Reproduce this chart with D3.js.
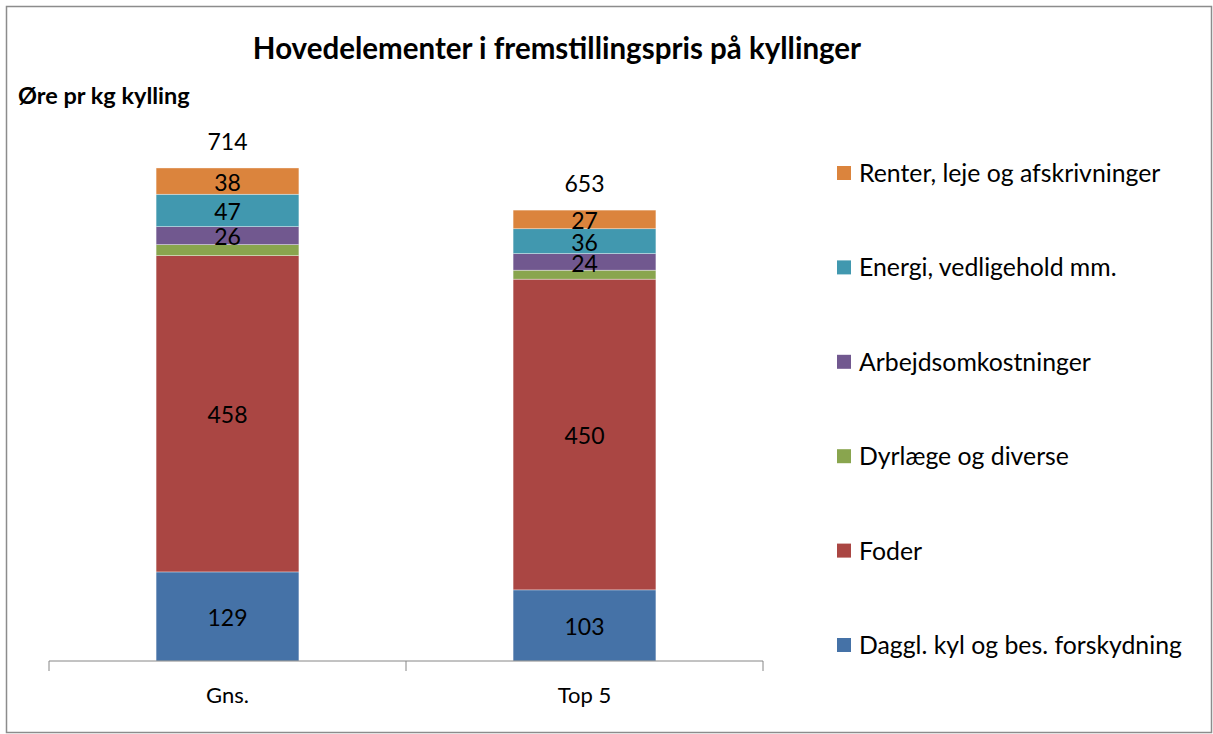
<!DOCTYPE html>
<html>
<head>
<meta charset="utf-8">
<script src="https://cdn.jsdelivr.net/npm/d3@7"></script>
<style>
  body { margin: 0; background: #fff; }
  text { font-family: Lato, "Open Sans", sans-serif; }
</style>
</head>
<body>
<div id="chart"></div>
<script>
// data
var categories = ['Gns.', 'Top 5'];
var series = ['Daggl. kyl og bes. forskydning', 'Foder', 'Dyrlæge og diverse',
              'Arbejdsomkostninger', 'Energi, vedligehold mm.', 'Renter, leje og afskrivninger'];
var daggl = [129, 103];
var foder = [458, 450];
var dyrlaege = [16, 13];
var arbejde = [26, 24];
var energi = [47, 36];
var renter = [38, 27];
var totals = [714, 653];
var showLabel = [true, true, false, true, true, true];
var colors = ['#4572A7', '#AA4643', '#89A54E', '#71588F', '#4198AF', '#DB843D'];

var values = [daggl, foder, dyrlaege, arbejde, energi, renter];
var rows = categories.map(function(c, i) {
    var r = {cat: c};
    series.forEach(function(s, j) { r[s] = values[j][i]; });
    return r;
});

var W = 1213, H = 734;
var svg = d3.select('#chart').append('svg').attr('width', W).attr('height', H);

svg.append('rect')
    .attr('x', 6.5).attr('y', 6.5).attr('width', W - 8).attr('height', H - 8)
    .attr('fill', '#fff').attr('stroke', '#8c8c8c').attr('stroke-width', 1.5);

var x = d3.scaleBand().domain(categories).range([49, 763]).paddingInner(0).paddingOuter(0);
var y = d3.scaleLinear().domain([0, 800]).range([661, 661 - 0.6905 * 800]);
var barW = x.bandwidth() * 0.4;

var stack = d3.stack().keys(series)(rows);

var layers = svg.selectAll('g.layer').data(stack).enter().append('g')
    .attr('class', 'layer')
    .attr('fill', function(d, i) { return colors[i]; });

layers.selectAll('rect').data(function(d) { return d; }).enter().append('rect')
    .attr('x', function(d) { return x(d.data.cat) + (x.bandwidth() - barW) / 2; })
    .attr('width', barW)
    .attr('y', function(d) { return y(d[1]); })
    .attr('height', function(d) { return y(d[0]) - y(d[1]); })
    .attr('stroke', '#fff').attr('stroke-opacity', 0.6).attr('stroke-width', 0.6);

layers.each(function(layer, i) {
    if (!showLabel[i]) return;
    d3.select(this).selectAll('text').data(layer).enter().append('text')
        .attr('x', function(d) { return x(d.data.cat) + x.bandwidth() / 2; })
        .attr('y', function(d) { return (y(d[0]) + y(d[1])) / 2; })
        .attr('dy', '0.42em')
        .attr('text-anchor', 'middle')
        .attr('fill', '#000')
        .style('font-size', '23px')
        .text(function(d) { return d.data[layer.key]; });
});

// totals above bars
svg.selectAll('text.total').data(categories).enter().append('text')
    .attr('class', 'total')
    .attr('x', function(d) { return x(d) + x.bandwidth() / 2; })
    .attr('y', function(d, i) { return y(totals[i]) - 27; })
    .attr('dy', '0.38em')
    .attr('text-anchor', 'middle')
    .style('font-size', '23px')
    .text(function(d, i) { return totals[i]; });

// x axis
var xAxis = svg.append('g').attr('transform', 'translate(0,661)')
    .call(d3.axisBottom(x).tickSize(0).tickPadding(26));
xAxis.select('.domain').attr('stroke', '#868686').attr('d', 'M49,0H763');
xAxis.selectAll('text').style('font-size', '22px').attr('fill', '#000')
    .style('font-family', 'Lato, "Open Sans", sans-serif');
var edges = [49].concat(categories.map(function(c) { return x(c) + x.bandwidth(); }));
xAxis.selectAll('line.edge').data(edges).enter().append('line')
    .attr('class', 'edge')
    .attr('x1', function(d) { return d; }).attr('x2', function(d) { return d; })
    .attr('y1', 0).attr('y2', 10)
    .attr('stroke', '#868686');

// titles
svg.append('text')
    .attr('x', 557).attr('y', 59)
    .attr('text-anchor', 'middle')
    .style('font-size', '29.5px').style('font-weight', 'bold')
    .text('Hovedelementer i fremstillingspris på kyllinger');

svg.append('text')
    .attr('x', 18).attr('y', 104)
    .style('font-size', '23.5px').style('font-weight', 'bold')
    .text('Øre pr kg kylling');

// legend, top item first
var legendItems = series.map(function(s, i) { return {name: s, color: colors[i]}; }).reverse();
var legend = svg.selectAll('g.legend').data(legendItems).enter().append('g')
    .attr('class', 'legend')
    .attr('transform', function(d, i) { return 'translate(837,' + (173 + i * 94.4) + ')'; });
legend.append('rect')
    .attr('x', 0).attr('y', -7).attr('width', 14).attr('height', 14)
    .attr('fill', function(d) { return d.color; });
legend.append('text')
    .attr('x', 22).attr('dy', '0.36em')
    .style('font-size', '24.8px')
    .text(function(d) { return d.name; });
</script>
</body>
</html>
